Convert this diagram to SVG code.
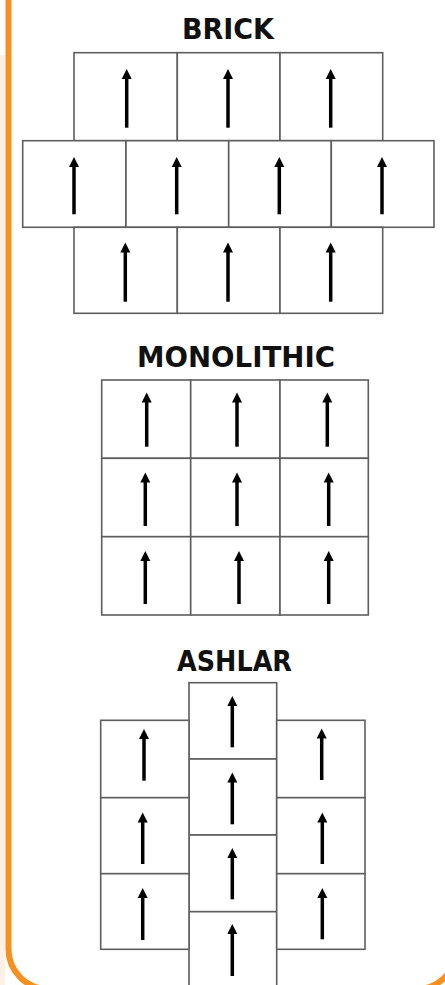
<svg xmlns="http://www.w3.org/2000/svg" width="445" height="985" viewBox="0 0 445 985">
<style>
.cell{fill:#ffffff;stroke:#5e5e5e;stroke-width:1.6}
.arr{stroke:#000;stroke-width:3.5;fill:none;marker-end:url(#ah)}
.title{font-family:"DejaVu Sans","Liberation Sans",sans-serif;font-weight:bold;font-size:28px;fill:#111;text-anchor:middle}
</style>
<defs>
<marker id="ah" markerUnits="userSpaceOnUse" markerWidth="11" markerHeight="11" viewBox="0 -5.5 11 11" refX="1" refY="0" orient="auto">
<path d="M0,-5 L10,0 L0,5 z" fill="#000"/>
</marker>
</defs>
<g id="frame">
<rect x="0" y="55" width="5" height="930" fill="#fdf1e5"/>
<rect x="8.5" y="-60" width="448" height="1049" rx="40" ry="40" fill="none" stroke="#f7901e" stroke-width="6"/>
</g>
<g id="brick">
<text class="title" x="228" y="39" textLength="92" lengthAdjust="spacingAndGlyphs">BRICK</text>
<g id="b-r1c1"><rect class="cell" x="74" y="52.7" width="103.3" height="88"/><line class="arr" x1="126.7" y1="127.7" x2="126.7" y2="78"/></g>
<g id="b-r1c2"><rect class="cell" x="177.3" y="52.7" width="102.7" height="88"/><line class="arr" x1="228" y1="127.7" x2="228" y2="78"/></g>
<g id="b-r1c3"><rect class="cell" x="280" y="52.7" width="102.7" height="88"/><line class="arr" x1="330.7" y1="127.7" x2="330.7" y2="78"/></g>
<g id="b-r2c1"><rect class="cell" x="22.7" y="140.7" width="103.3" height="86.6"/><line class="arr" x1="74" y1="214.3" x2="74" y2="166"/></g>
<g id="b-r2c2"><rect class="cell" x="126" y="140.7" width="102.7" height="86.6"/><line class="arr" x1="176.7" y1="214.3" x2="176.7" y2="166"/></g>
<g id="b-r2c3"><rect class="cell" x="228.7" y="140.7" width="102.6" height="86.6"/><line class="arr" x1="279.3" y1="214.3" x2="279.3" y2="166"/></g>
<g id="b-r2c4"><rect class="cell" x="331.3" y="140.7" width="102.7" height="86.6"/><line class="arr" x1="382" y1="214.3" x2="382" y2="166"/></g>
<g id="b-r3c1"><rect class="cell" x="74" y="227.3" width="103.3" height="86"/><line class="arr" x1="125.3" y1="301.7" x2="125.3" y2="251.5"/></g>
<g id="b-r3c2"><rect class="cell" x="177.3" y="227.3" width="102.7" height="86"/><line class="arr" x1="228" y1="301.7" x2="228" y2="251.5"/></g>
<g id="b-r3c3"><rect class="cell" x="280" y="227.3" width="102.7" height="86"/><line class="arr" x1="330.7" y1="301.7" x2="330.7" y2="251.5"/></g>
</g>
<g id="monolithic">
<text class="title" x="236" y="367" textLength="198" lengthAdjust="spacingAndGlyphs">MONOLITHIC</text>
<g id="m-r1c1"><rect class="cell" x="101.7" y="380" width="89" height="78.3"/><line class="arr" x1="146.7" y1="446.7" x2="146.7" y2="401.5"/></g>
<g id="m-r1c2"><rect class="cell" x="190.7" y="380" width="89.3" height="78.3"/><line class="arr" x1="237" y1="446.7" x2="237" y2="401.5"/></g>
<g id="m-r1c3"><rect class="cell" x="280" y="380" width="88.3" height="78.3"/><line class="arr" x1="327.3" y1="446.7" x2="327.3" y2="401.5"/></g>
<g id="m-r2c1"><rect class="cell" x="101.7" y="458.3" width="89" height="78.4"/><line class="arr" x1="145.3" y1="526" x2="145.3" y2="481.5"/></g>
<g id="m-r2c2"><rect class="cell" x="190.7" y="458.3" width="89.3" height="78.4"/><line class="arr" x1="237" y1="526" x2="237" y2="481.5"/></g>
<g id="m-r2c3"><rect class="cell" x="280" y="458.3" width="88.3" height="78.4"/><line class="arr" x1="328.7" y1="526" x2="328.7" y2="481.5"/></g>
<g id="m-r3c1"><rect class="cell" x="101.7" y="536.7" width="89" height="78.3"/><line class="arr" x1="145.3" y1="604" x2="145.3" y2="560"/></g>
<g id="m-r3c2"><rect class="cell" x="190.7" y="536.7" width="89.3" height="78.3"/><line class="arr" x1="239" y1="604" x2="239" y2="560"/></g>
<g id="m-r3c3"><rect class="cell" x="280" y="536.7" width="88.3" height="78.3"/><line class="arr" x1="328.7" y1="604" x2="328.7" y2="560"/></g>
</g>
<g id="ashlar">
<text class="title" x="234.5" y="670.5" textLength="115" lengthAdjust="spacingAndGlyphs">ASHLAR</text>
<g id="a-c1"><rect class="cell" x="189" y="682.7" width="87.7" height="76.3"/><line class="arr" x1="232.3" y1="747.3" x2="232.3" y2="705"/></g>
<g id="a-c2"><rect class="cell" x="189" y="759" width="87.7" height="76"/><line class="arr" x1="232.3" y1="824.3" x2="232.3" y2="781.5"/></g>
<g id="a-c3"><rect class="cell" x="189" y="835" width="87.7" height="76.7"/><line class="arr" x1="232.3" y1="899.3" x2="232.3" y2="857"/></g>
<g id="a-c4"><rect class="cell" x="189" y="911.7" width="87.7" height="80"/><line class="arr" x1="232.3" y1="976" x2="232.3" y2="933"/></g>
<g id="a-l1"><rect class="cell" x="100.7" y="720.3" width="88.3" height="77.4"/><line class="arr" x1="144" y1="780.7" x2="144" y2="738"/></g>
<g id="a-l2"><rect class="cell" x="100.7" y="797.7" width="88.3" height="76"/><line class="arr" x1="142.7" y1="864" x2="142.7" y2="821.5"/></g>
<g id="a-l3"><rect class="cell" x="100.7" y="873.7" width="88.3" height="75.6"/><line class="arr" x1="142.7" y1="940" x2="142.7" y2="897"/></g>
<g id="a-r1"><rect class="cell" x="276.7" y="720.3" width="88.3" height="77.4"/><line class="arr" x1="321.7" y1="780" x2="321.7" y2="737.5"/></g>
<g id="a-r2"><rect class="cell" x="276.7" y="797.7" width="88.3" height="76"/><line class="arr" x1="322.3" y1="864" x2="322.3" y2="821.5"/></g>
<g id="a-r3"><rect class="cell" x="276.7" y="873.7" width="88.3" height="75.6"/><line class="arr" x1="322.3" y1="939.3" x2="322.3" y2="897"/></g>
</g>
</svg>
